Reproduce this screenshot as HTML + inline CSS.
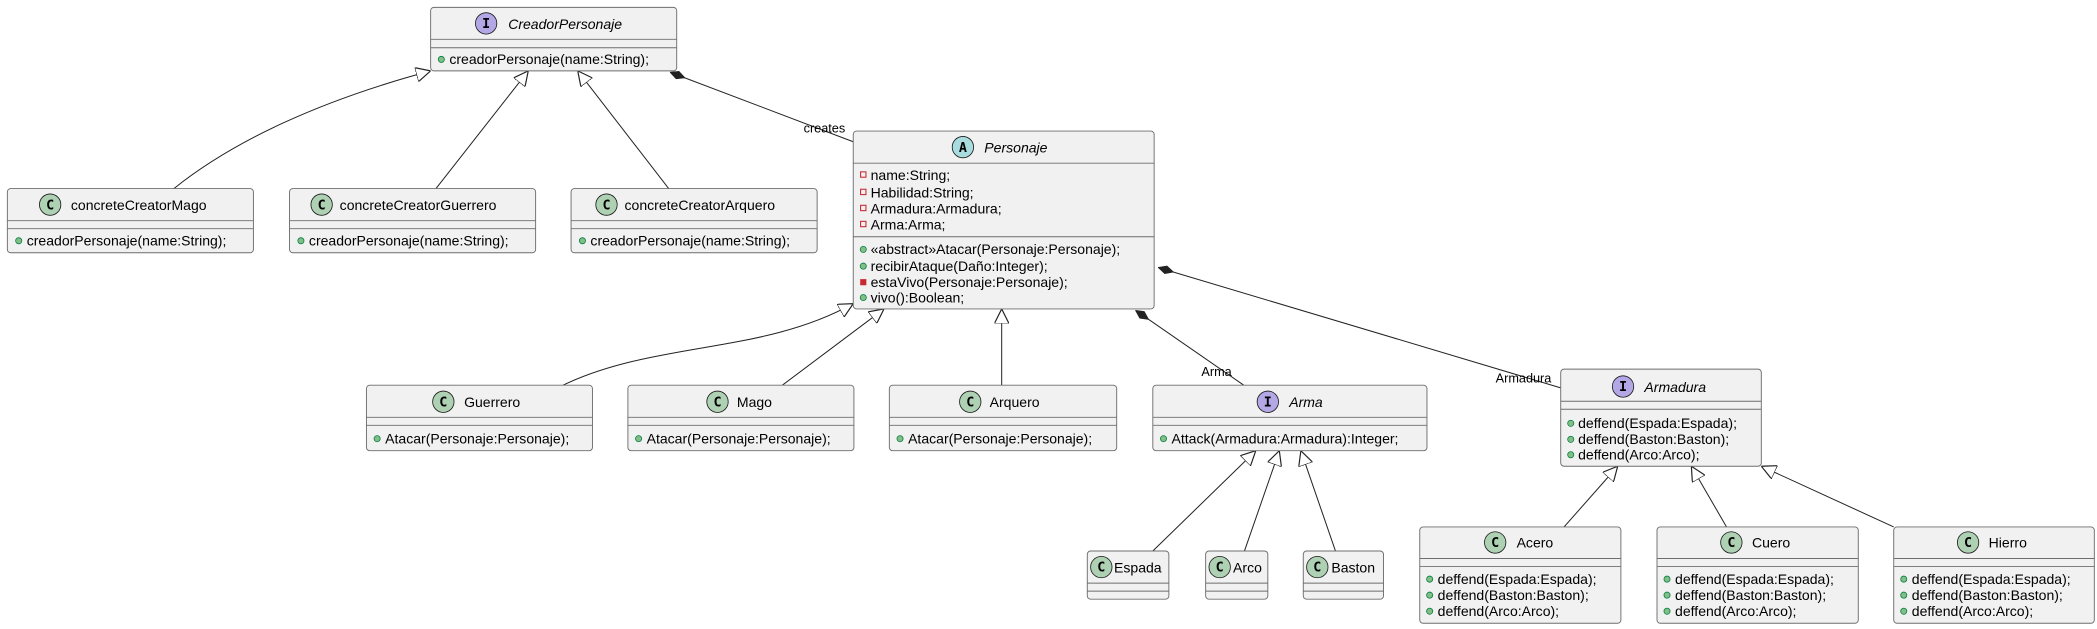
<!DOCTYPE html>
<html><head><meta charset="utf-8"><style>
html,body{margin:0;padding:0;background:#fff;}
svg{display:block;}
text{font-family:"Liberation Sans","DejaVu Sans",sans-serif;font-size:10.5px;fill:#000;}
.box{fill:#F1F1F1;stroke:#6e6e6e;stroke-width:0.7;}
.sep{stroke:#6e6e6e;stroke-width:0.7;}
.e{fill:none;stroke:#222;stroke-width:0.75;}
.pub{fill:#84BE84;stroke:#038048;stroke-width:0.6;}
.priv{fill:none;stroke:#C82930;stroke-width:0.8;}
.privm{fill:#C82930;stroke:#C82930;stroke-width:0.6;}
.ci{fill:#ADD1B2;stroke:#181818;stroke-width:0.6;}
.ii{fill:#B4A7E5;stroke:#181818;stroke-width:0.6;}
.ai{fill:#A9DCDF;stroke:#181818;stroke-width:0.6;}
.ic{font-family:"DejaVu Sans Mono","Liberation Mono",monospace;font-weight:bold;font-size:10px;text-anchor:middle;}
.it{font-style:italic;}
.lbl{font-size:9.5px;}
</style></head><body>
<svg width="2097" height="629" viewBox="0 0 1568 470.3" preserveAspectRatio="none" xmlns="http://www.w3.org/2000/svg">
<defs>
<marker id="tri" viewBox="0 0 10 10" refX="10" refY="5" markerWidth="11" markerHeight="11" markerUnits="userSpaceOnUse" orient="auto">
<path d="M0,0 L10,5 L0,10 z" fill="#fff" stroke="#222" stroke-width="0.8"/>
</marker>
<marker id="dia" viewBox="0 0 12 10" refX="0" refY="5" markerWidth="12" markerHeight="10" markerUnits="userSpaceOnUse" orient="auto">
<path d="M0,5 L6,2 L12,5 L6,8 z" fill="#222" stroke="#222" stroke-width="0.5"/>
</marker>
</defs>

<!-- edges -->
<path class="e" marker-end="url(#tri)" d="M130,141 C175,105 240,75 322,53"/>
<path class="e" marker-end="url(#tri)" d="M326,141 L395,53"/>
<path class="e" marker-end="url(#tri)" d="M500,141 L432,53"/>
<path class="e" marker-start="url(#dia)" d="M501,54 L638,106"/>
<text class="lbl" x="632" y="99" text-anchor="end">creates</text>

<path class="e" marker-end="url(#tri)" d="M421,288 C490,255 570,265 638,227"/>
<path class="e" marker-end="url(#tri)" d="M585,288 L661,231"/>
<path class="e" marker-end="url(#tri)" d="M749,288 L749,231"/>
<path class="e" marker-start="url(#dia)" d="M849,232 L930,288"/>
<text class="lbl" x="921" y="281" text-anchor="end">Arma</text>
<path class="e" marker-start="url(#dia)" d="M866,200 L1167,290"/>
<text class="lbl" x="1160" y="286" text-anchor="end">Armadura</text>

<path class="e" marker-end="url(#tri)" d="M862,412 L939,337"/>
<path class="e" marker-end="url(#tri)" d="M930.5,412 L956.6,337"/>
<path class="e" marker-end="url(#tri)" d="M998.6,412 L972.7,337"/>
<path class="e" marker-end="url(#tri)" d="M1169.5,394 L1209.6,348.6"/>
<path class="e" marker-end="url(#tri)" d="M1291,394 L1264.7,348.6"/>
<path class="e" marker-end="url(#tri)" d="M1416,394 L1317,348.6"/>

<!-- CreadorPersonaje -->
<rect class="box" x="322" y="5.5" width="184" height="47.5" rx="2.5"/>
<line class="sep" x1="322" y1="29.4" x2="506" y2="29.4"/><line class="sep" x1="322" y1="35.7" x2="506" y2="35.7"/>
<circle class="ii" cx="363.5" cy="17.5" r="8"/><text class="ic" x="363.5" y="21">I</text>
<text class="it" x="380" y="21.5">CreadorPersonaje</text>
<circle class="pub" cx="330" cy="44.4" r="2.3"/><text x="336" y="48">creadorPersonaje(name:String);</text>

<!-- concrete creators -->
<rect class="box" x="5.5" y="141" width="184" height="48" rx="2.5"/>
<line class="sep" x1="5.5" y1="165" x2="189.5" y2="165"/><line class="sep" x1="5.5" y1="171" x2="189.5" y2="171"/>
<circle class="ci" cx="37.5" cy="153" r="8"/><text class="ic" x="37.5" y="156.5">C</text>
<text x="53" y="157">concreteCreatorMago</text>
<circle class="pub" cx="14" cy="180" r="2.3"/><text x="20" y="183.5">creadorPersonaje(name:String);</text>

<rect class="box" x="216.5" y="141" width="184" height="48" rx="2.5"/>
<line class="sep" x1="216.5" y1="165" x2="400.5" y2="165"/><line class="sep" x1="216.5" y1="171" x2="400.5" y2="171"/>
<circle class="ci" cx="240.5" cy="153" r="8"/><text class="ic" x="240.5" y="156.5">C</text>
<text x="254" y="157">concreteCreatorGuerrero</text>
<circle class="pub" cx="225" cy="180" r="2.3"/><text x="231" y="183.5">creadorPersonaje(name:String);</text>

<rect class="box" x="427" y="141" width="184" height="48" rx="2.5"/>
<line class="sep" x1="427" y1="165" x2="611" y2="165"/><line class="sep" x1="427" y1="171" x2="611" y2="171"/>
<circle class="ci" cx="453.5" cy="153" r="8"/><text class="ic" x="453.5" y="156.5">C</text>
<text x="467" y="157">concreteCreatorArquero</text>
<circle class="pub" cx="435.5" cy="180" r="2.3"/><text x="441.5" y="183.5">creadorPersonaje(name:String);</text>

<!-- Personaje -->
<rect class="box" x="638" y="98" width="225" height="133" rx="2.5"/>
<line class="sep" x1="638" y1="122" x2="863" y2="122"/><line class="sep" x1="638" y1="177" x2="863" y2="177"/>
<circle class="ai" cx="720" cy="110" r="8"/><text class="ic" x="720" y="113.5">A</text>
<text class="it" x="736" y="114">Personaje</text>
<rect class="priv" x="643.5" y="128.5" width="4" height="4"/><text x="651" y="134.5">name:String;</text>
<rect class="priv" x="643.5" y="141.5" width="4" height="4"/><text x="651" y="147.5">Habilidad:String;</text>
<rect class="priv" x="643.5" y="153.5" width="4" height="4"/><text x="651" y="159.5">Armadura:Armadura;</text>
<rect class="priv" x="643.5" y="165.5" width="4" height="4"/><text x="651" y="171.5">Arma:Arma;</text>
<circle class="pub" cx="645.5" cy="186.5" r="2.3"/><text x="651" y="190">«abstract»Atacar(Personaje:Personaje);</text>
<circle class="pub" cx="645.5" cy="199" r="2.3"/><text x="651" y="202.5">recibirAtaque(Daño:Integer);</text>
<rect class="privm" x="643.5" y="209" width="4" height="4"/><text x="651" y="214.5">estaVivo(Personaje:Personaje);</text>
<circle class="pub" cx="645.5" cy="222.5" r="2.3"/><text x="651" y="226">vivo():Boolean;</text>

<!-- row 2 -->
<rect class="box" x="274" y="288" width="169" height="49" rx="2.5"/>
<line class="sep" x1="274" y1="312" x2="443" y2="312"/><line class="sep" x1="274" y1="318" x2="443" y2="318"/>
<circle class="ci" cx="331.5" cy="300.4" r="8"/><text class="ic" x="331.5" y="304">C</text>
<text x="347" y="304.5">Guerrero</text>
<circle class="pub" cx="282" cy="328" r="2.3"/><text x="288" y="331.5">Atacar(Personaje:Personaje);</text>

<rect class="box" x="469.5" y="288" width="169" height="49" rx="2.5"/>
<line class="sep" x1="469.5" y1="312" x2="638.5" y2="312"/><line class="sep" x1="469.5" y1="318" x2="638.5" y2="318"/>
<circle class="ci" cx="536.5" cy="300.4" r="8"/><text class="ic" x="536.5" y="304">C</text>
<text x="551" y="304.5">Mago</text>
<circle class="pub" cx="477.5" cy="328" r="2.3"/><text x="483.5" y="331.5">Atacar(Personaje:Personaje);</text>

<rect class="box" x="665" y="288" width="170" height="49" rx="2.5"/>
<line class="sep" x1="665" y1="312" x2="835" y2="312"/><line class="sep" x1="665" y1="318" x2="835" y2="318"/>
<circle class="ci" cx="725.5" cy="300.4" r="8"/><text class="ic" x="725.5" y="304">C</text>
<text x="740" y="304.5">Arquero</text>
<circle class="pub" cx="673" cy="328" r="2.3"/><text x="679" y="331.5">Atacar(Personaje:Personaje);</text>

<rect class="box" x="862" y="288" width="205" height="49" rx="2.5"/>
<line class="sep" x1="862" y1="312" x2="1067" y2="312"/><line class="sep" x1="862" y1="318" x2="1067" y2="318"/>
<circle class="ii" cx="948" cy="300.4" r="8"/><text class="ic" x="948" y="304">I</text>
<text class="it" x="964" y="304.5">Arma</text>
<circle class="pub" cx="870" cy="328" r="2.3"/><text x="876" y="331.5">Attack(Armadura:Armadura):Integer;</text>

<rect class="box" x="1167" y="276" width="150" height="72.6" rx="2.5"/>
<line class="sep" x1="1167" y1="300" x2="1317" y2="300"/><line class="sep" x1="1167" y1="306" x2="1317" y2="306"/>
<circle class="ii" cx="1213.6" cy="289" r="8"/><text class="ic" x="1213.6" y="292.5">I</text>
<text class="it" x="1229.6" y="293">Armadura</text>
<circle class="pub" cx="1174.5" cy="316.5" r="2.3"/><text x="1180" y="320">deffend(Espada:Espada);</text>
<circle class="pub" cx="1174.5" cy="328.5" r="2.3"/><text x="1180" y="332">deffend(Baston:Baston);</text>
<circle class="pub" cx="1174.5" cy="340" r="2.3"/><text x="1180" y="343.5">deffend(Arco:Arco);</text>

<!-- weapons -->
<rect class="box" x="813" y="412" width="61" height="36" rx="2.5"/>
<line class="sep" x1="813" y1="436" x2="874" y2="436"/><line class="sep" x1="813" y1="442" x2="874" y2="442"/>
<circle class="ci" cx="823.5" cy="424" r="8"/><text class="ic" x="823.5" y="427.5">C</text>
<text x="833" y="428">Espada</text>

<rect class="box" x="901.5" y="412" width="46.5" height="36" rx="2.5"/>
<line class="sep" x1="901.5" y1="436" x2="948" y2="436"/><line class="sep" x1="901.5" y1="442" x2="948" y2="442"/>
<circle class="ci" cx="912" cy="424" r="8"/><text class="ic" x="912" y="427.5">C</text>
<text x="922" y="428">Arco</text>

<rect class="box" x="974.5" y="412" width="60" height="36" rx="2.5"/>
<line class="sep" x1="974.5" y1="436" x2="1034.5" y2="436"/><line class="sep" x1="974.5" y1="442" x2="1034.5" y2="442"/>
<circle class="ci" cx="985" cy="424" r="8"/><text class="ic" x="985" y="427.5">C</text>
<text x="995.5" y="428">Baston</text>

<!-- armors -->
<rect class="box" x="1061.6" y="394" width="150.4" height="72" rx="2.5"/>
<line class="sep" x1="1061.6" y1="417.6" x2="1212" y2="417.6"/><line class="sep" x1="1061.6" y1="423.6" x2="1212" y2="423.6"/>
<circle class="ci" cx="1118" cy="405.6" r="8"/><text class="ic" x="1118" y="409">C</text>
<text x="1134" y="409.5">Acero</text>
<circle class="pub" cx="1069" cy="433" r="2.3"/><text x="1075" y="436.5">deffend(Espada:Espada);</text>
<circle class="pub" cx="1069" cy="445" r="2.3"/><text x="1075" y="448.5">deffend(Baston:Baston);</text>
<circle class="pub" cx="1069" cy="457" r="2.3"/><text x="1075" y="460.5">deffend(Arco:Arco);</text>

<rect class="box" x="1239" y="394" width="150.5" height="72" rx="2.5"/>
<line class="sep" x1="1239" y1="417.6" x2="1389.5" y2="417.6"/><line class="sep" x1="1239" y1="423.6" x2="1389.5" y2="423.6"/>
<circle class="ci" cx="1294.6" cy="405.6" r="8"/><text class="ic" x="1294.6" y="409">C</text>
<text x="1310" y="409.5">Cuero</text>
<circle class="pub" cx="1246.5" cy="433" r="2.3"/><text x="1252.5" y="436.5">deffend(Espada:Espada);</text>
<circle class="pub" cx="1246.5" cy="445" r="2.3"/><text x="1252.5" y="448.5">deffend(Baston:Baston);</text>
<circle class="pub" cx="1246.5" cy="457" r="2.3"/><text x="1252.5" y="460.5">deffend(Arco:Arco);</text>

<rect class="box" x="1416" y="394" width="150" height="72" rx="2.5"/>
<line class="sep" x1="1416" y1="417.6" x2="1566" y2="417.6"/><line class="sep" x1="1416" y1="423.6" x2="1566" y2="423.6"/>
<circle class="ci" cx="1471.6" cy="405.6" r="8"/><text class="ic" x="1471.6" y="409">C</text>
<text x="1487" y="409.5">Hierro</text>
<circle class="pub" cx="1423.5" cy="433" r="2.3"/><text x="1429.5" y="436.5">deffend(Espada:Espada);</text>
<circle class="pub" cx="1423.5" cy="445" r="2.3"/><text x="1429.5" y="448.5">deffend(Baston:Baston);</text>
<circle class="pub" cx="1423.5" cy="457" r="2.3"/><text x="1429.5" y="460.5">deffend(Arco:Arco);</text>
</svg>
</body></html>
